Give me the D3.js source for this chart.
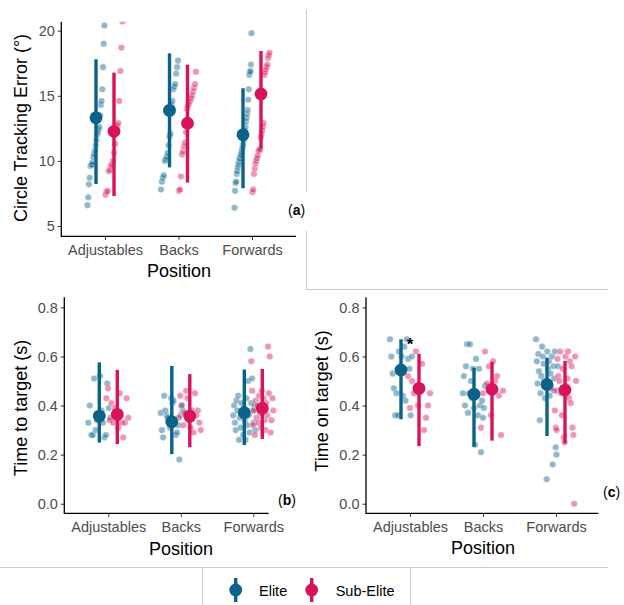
<!DOCTYPE html>
<html>
<head>
<meta charset="utf-8">
<script src="https://cdn.jsdelivr.net/npm/d3@7"></script>
<style>
  body { margin: 0; background: #fff; }
  svg { display: block; font-family: "Liberation Sans", Arial, sans-serif; }
</style>
</head>
<body>
<svg id="chart" width="624" height="605"></svg>
<script>
// ---- categories ----
const positions = ["Adjustables", "Backs", "Forwards"];
const groups = ["Elite", "Sub-Elite"];
const groupColors = ["#0a628a", "#d8135c"];

// ---- (a) circle tracking error (degrees) ----
const trackingEliteMean = [13.32, 13.88, 12.01];
const trackingEliteLow  = [8.23, 9.5, 7.9];
const trackingEliteHigh = [17.8, 18.26, 15.58];
const trackingSubMean = [12.27, 12.89, 15.14];
const trackingSubLow  = [7.3, 8.33, 10.94];
const trackingSubHigh = [16.78, 17.39, 18.44];
const trackingElitePoints = [
  [6.6, 7.2, 8.2, 8.7, 9.6, 9.7, 9.7, 9.9, 10.3, 10.5, 10.8, 11.2, 11.6, 12.0, 12.2, 12.4, 12.6, 13.5, 14.3, 14.6, 15.5, 17.2, 19.0, 20.4],
  [7.8, 8.4, 8.7, 8.9, 10.0, 10.1, 10.3, 10.6, 11.2, 11.9, 12.1, 14.3, 14.6, 15.5, 15.7, 15.9, 16.7, 17.2, 17.7],
  [6.4, 7.7, 8.3, 8.4, 9.0, 9.2, 9.5, 9.7, 9.9, 10.1, 10.2, 10.4, 10.5, 10.7, 10.9, 11.1, 11.3, 11.6, 11.9, 12.3, 12.6, 13.0, 13.3, 13.6, 13.9, 14.7, 15.5, 16.6, 16.8, 16.9, 17.4, 19.8]
];
const trackingSubPoints = [
  [7.4, 7.6, 7.7, 9.2, 9.3, 9.6, 9.7, 10.0, 10.6, 11.3, 12.3, 12.7, 12.9, 14.6, 16.9, 18.7, 20.7],
  [7.7, 7.8, 8.8, 10.5, 10.7, 11.1, 11.4, 12.2, 14.0, 14.2, 14.4, 14.6, 14.8, 15.0, 15.3, 15.6, 15.9, 16.85],
  [7.6, 7.8, 9.0, 9.4, 9.8, 10.0, 10.2, 10.4, 10.7, 10.8, 10.9, 11.8, 12.0, 12.3, 12.6, 12.9, 16.6, 16.8, 17.0, 17.2, 17.4, 17.9, 18.1, 18.3]
];
const trackingTicks = [5, 10, 15, 20];

// ---- (b) time to target (s) ----
const toTargetEliteMean = [0.357, 0.334, 0.371];
const toTargetEliteLow  = [0.249, 0.202, 0.239];
const toTargetEliteHigh = [0.576, 0.561, 0.547];
const toTargetSubMean = [0.364, 0.357, 0.389];
const toTargetSubLow  = [0.243, 0.23, 0.264];
const toTargetSubHigh = [0.545, 0.528, 0.549];
const toTargetElitePoints = [
  [0.33, 0.40, 0.28, 0.28, 0.51, 0.30, 0.34, 0.36, 0.52, 0.38, 0.33, 0.27, 0.28, 0.49, 0.39, 0.35],
  [0.37, 0.30, 0.27, 0.44, 0.38, 0.36, 0.35, 0.34, 0.31, 0.43, 0.41, 0.42, 0.33, 0.28, 0.29, 0.32, 0.18, 0.36, 0.40, 0.38],
  [0.36, 0.40, 0.33, 0.30, 0.42, 0.38, 0.44, 0.26, 0.35, 0.31, 0.41, 0.37, 0.28, 0.39, 0.34, 0.26, 0.43, 0.32, 0.50, 0.36, 0.29, 0.63, 0.41, 0.51, 0.38, 0.33, 0.40, 0.30]
];
const toTargetSubPoints = [
  [0.43, 0.47, 0.34, 0.41, 0.33, 0.39, 0.36, 0.31, 0.45, 0.33, 0.27, 0.33, 0.43, 0.35],
  [0.35, 0.44, 0.40, 0.32, 0.37, 0.46, 0.43, 0.34, 0.31, 0.38, 0.29, 0.45, 0.36, 0.38, 0.33, 0.30],
  [0.58, 0.46, 0.32, 0.38, 0.28, 0.42, 0.35, 0.40, 0.33, 0.44, 0.37, 0.31, 0.46, 0.39, 0.43, 0.34, 0.30, 0.41, 0.36, 0.64, 0.45, 0.60, 0.29, 0.34, 0.43, 0.38]
];

// ---- (c) time on target (s) ----
const onTargetEliteMean = [0.545, 0.446, 0.486];
const onTargetEliteLow  = [0.344, 0.232, 0.276];
const onTargetEliteHigh = [0.67, 0.554, 0.595];
const onTargetSubMean = [0.47, 0.466, 0.463];
const onTargetSubLow  = [0.235, 0.257, 0.246];
const onTargetSubHigh = [0.61, 0.578, 0.582];
const onTargetElitePoints = [
  [0.67, 0.60, 0.53, 0.47, 0.36, 0.45, 0.36, 0.62, 0.55, 0.60, 0.44, 0.64, 0.42, 0.67, 0.59, 0.55, 0.36, 0.60],
  [0.45, 0.52, 0.40, 0.56, 0.65, 0.37, 0.45, 0.65, 0.50, 0.43, 0.55, 0.39, 0.24, 0.59, 0.45, 0.36, 0.55, 0.40, 0.21, 0.42, 0.35, 0.39, 0.48],
  [0.67, 0.58, 0.49, 0.61, 0.54, 0.34, 0.45, 0.52, 0.64, 0.60, 0.57, 0.50, 0.43, 0.48, 0.10, 0.62, 0.55, 0.58, 0.44, 0.53, 0.47, 0.60, 0.16, 0.56, 0.51, 0.62, 0.23, 0.20, 0.46, 0.56]
];
const onTargetSubPoints = [
  [0.52, 0.39, 0.50, 0.45, 0.62, 0.40, 0.47, 0.57, 0.30, 0.35, 0.40, 0.45],
  [0.31, 0.45, 0.62, 0.49, 0.56, 0.36, 0.58, 0.50, 0.52, 0.44, 0.28, 0.46],
  [0.46, 0.38, 0.31, 0.30, 0.59, 0.52, 0.50, 0.62, 0.45, 0.36, 0.55, 0.27, 0.25, 0.60, 0.48, 0.51, 0.62, 0.43, 0.58, 0.41, 0.56, 0.31, 0.28, 0.0, 0.60, 0.50]
];
const secondTicks = [0, 0.2, 0.4, 0.6, 0.8];
const significant = [{ panel: "c", position: "Adjustables", label: "*" }];

const svg = d3.select("#chart");
const tickGrey = "#4d4d4d";
const frameGrey = "#cccccc";

// light frame lines separating the figure blocks
const frame = svg.append("g").attr("stroke", frameGrey).attr("stroke-width", 1).attr("fill", "none");
frame.append("path").attr("d", "M306.5,10V192M306.5,231V289.5H608");
frame.append("path").attr("d", "M0,567.5H608M202.5,567.5V605M410.5,567.5V605");

function drawPanel(p) {
  const g = svg.append("g");
  const x = d3.scalePoint().domain(positions).range(p.catRange);
  const y = d3.scaleLinear().domain(p.yDomain).range([p.bottom, p.top]);
  const dodge = 9;
  const clipId = "clip-" + p.id;
  svg.append("clipPath").attr("id", clipId)
    .append("rect").attr("x", p.left).attr("y", p.top).attr("width", 340).attr("height", p.bottom - p.top + 20);

  // individual observations
  const pts = g.append("g").attr("clip-path", `url(#${clipId})`);
  groups.forEach((grp, gi) => {
    p.points[gi].forEach((vals, ci) => {
      const items = vals.map(v => ({ v }));
      if (p.sorted) items.sort((a, b) => a.v - b.v);
      const n = items.length;
      items.forEach((d, k) => { d.off = n > 1 ? -p.spread + 2 * p.spread * k / (n - 1) : 0; });
      pts.selectAll(null).data(items).join("circle")
        .attr("cx", d => x(positions[ci]) + (gi ? dodge : -dodge) + d.off)
        .attr("cy", d => y(d.v))
        .attr("r", 3.3)
        .attr("fill", groupColors[gi])
        .attr("fill-opacity", 0.45)
        .attr("stroke", "#fff")
        .attr("stroke-opacity", 0.7)
        .attr("stroke-width", 0.6);
    });
  });

  // summary: interval bars and means
  groups.forEach((grp, gi) => {
    const s = p.summary[gi];
    const rows = positions.map((pos, i) => ({ pos, mean: s.mean[i], lo: s.low[i], hi: s.high[i] }));
    const cx = d => x(d.pos) + (gi ? dodge : -dodge);
    g.selectAll(null).data(rows).join("line")
      .attr("x1", cx).attr("x2", cx)
      .attr("y1", d => y(d.lo)).attr("y2", d => y(d.hi))
      .attr("stroke", groupColors[gi]).attr("stroke-width", 3.4);
    g.selectAll(null).data(rows).join("circle")
      .attr("cx", cx).attr("cy", d => y(d.mean)).attr("r", 6.4)
      .attr("fill", groupColors[gi]);
  });

  // axes
  const yAxis = g.append("g").attr("transform", `translate(${p.left},0)`)
    .call(d3.axisLeft(y).tickValues(p.ticks).tickFormat(p.fmt).tickSize(3.5).tickPadding(3));
  const xAxis = g.append("g").attr("transform", `translate(0,${p.bottom})`)
    .call(d3.axisBottom(x).tickSize(3.5).tickPadding(5));
  [yAxis, xAxis].forEach(a => {
    a.select(".domain").remove();
    a.selectAll(".tick line").attr("stroke", "#333").attr("stroke-width", 1);
    a.selectAll(".tick text").attr("fill", tickGrey).attr("font-size", 14.5)
      .attr("font-family", "Liberation Sans, Arial, sans-serif");
  });
  g.append("path")
    .attr("d", `M${p.left},${p.top}V${p.bottom}H${p.right}`)
    .attr("fill", "none").attr("stroke", "#000").attr("stroke-width", 1.3);

  // titles
  g.append("text")
    .attr("transform", `translate(${p.yTitleX},${p.yTitleY}) rotate(-90)`)
    .attr("text-anchor", "middle").attr("font-size", 18).attr("fill", "#000")
    .text(p.yTitle);
  g.append("text")
    .attr("x", p.xTitleX).attr("y", p.xTitleY)
    .attr("text-anchor", "middle").attr("font-size", 18).attr("fill", "#000")
    .text("Position");

  // panel tag
  const tag = g.append("text").attr("x", p.tag[0]).attr("y", p.tag[1])
    .attr("font-size", 14).attr("fill", "#000");
  tag.append("tspan").text("(");
  tag.append("tspan").attr("font-weight", "bold").text(p.id);
  tag.append("tspan").text(")");

  // significance markers
  significant.filter(s => s.panel === p.id).forEach(s => {
    const i = positions.indexOf(s.position);
    g.append("text")
      .attr("x", x(s.position)).attr("y", y(p.summary[0].high[i]) + 11)
      .attr("text-anchor", "middle").attr("font-size", 17).attr("font-weight", "bold")
      .attr("fill", "#000").text(s.label);
  });
}

drawPanel({
  id: "a", left: 61.3, right: 296, top: 21.7, bottom: 236.3,
  catRange: [105, 252], yDomain: [4.21, 20.69], ticks: trackingTicks, fmt: d3.format("d"),
  sorted: true, spread: 8.5,
  points: [trackingElitePoints, trackingSubPoints],
  summary: [
    { mean: trackingEliteMean, low: trackingEliteLow, high: trackingEliteHigh },
    { mean: trackingSubMean, low: trackingSubLow, high: trackingSubHigh }
  ],
  yTitle: "Circle Tracking Error (°)", yTitleX: 27, yTitleY: 128,
  xTitleX: 179, xTitleY: 276.5, tag: [288, 215]
});

drawPanel({
  id: "b", left: 64.3, right: 268.7, top: 297.3, bottom: 513.3,
  catRange: [108.3, 253.3], yDomain: [-0.039, 0.841], ticks: secondTicks, fmt: d3.format(".1f"),
  sorted: false, spread: 11,
  points: [toTargetElitePoints, toTargetSubPoints],
  summary: [
    { mean: toTargetEliteMean, low: toTargetEliteLow, high: toTargetEliteHigh },
    { mean: toTargetSubMean, low: toTargetSubLow, high: toTargetSubHigh }
  ],
  yTitle: "Time to target (s)", yTitleX: 27, yTitleY: 408,
  xTitleX: 181, xTitleY: 555, tag: [278, 505]
});

drawPanel({
  id: "c", left: 366, right: 598.3, top: 297.3, bottom: 513.3,
  catRange: [410, 556], yDomain: [-0.039, 0.841], ticks: secondTicks, fmt: d3.format(".1f"),
  sorted: false, spread: 11,
  points: [onTargetElitePoints, onTargetSubPoints],
  summary: [
    { mean: onTargetEliteMean, low: onTargetEliteLow, high: onTargetEliteHigh },
    { mean: onTargetSubMean, low: onTargetSubLow, high: onTargetSubHigh }
  ],
  yTitle: "Time on target (s)", yTitleX: 328, yTitleY: 401,
  xTitleX: 483, xTitleY: 554, tag: [603, 497]
});

// legend
const legend = svg.append("g");
const legendItems = [
  { label: groups[0], color: groupColors[0], x: 235.7, tx: 259 },
  { label: groups[1], color: groupColors[1], x: 311.7, tx: 335.7 }
];
legendItems.forEach(it => {
  legend.append("line").attr("x1", it.x).attr("x2", it.x).attr("y1", 578).attr("y2", 602)
    .attr("stroke", it.color).attr("stroke-width", 3.4);
  legend.append("circle").attr("cx", it.x).attr("cy", 590).attr("r", 6.4).attr("fill", it.color);
  legend.append("text").attr("x", it.tx).attr("y", 595.5).attr("font-size", 14.5).attr("fill", "#000")
    .text(it.label);
});
</script>
</body>
</html>
